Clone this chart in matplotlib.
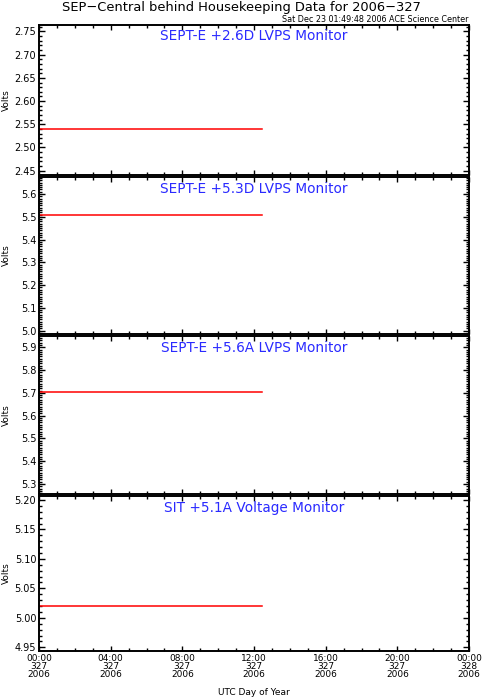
import matplotlib
matplotlib.use("Agg")
import matplotlib.pyplot as plt
from matplotlib.ticker import MultipleLocator, FormatStrFormatter

# data (hours of day 327, volts)
hours = [0.0, 3.0, 6.0, 9.0, 12.45]
sept_26d = [2.54, 2.54, 2.54, 2.54, 2.54]
sept_53d = [5.51, 5.51, 5.51, 5.51, 5.51]
sept_56a = [5.705, 5.705, 5.705, 5.705, 5.705]
sit_51a = [5.02, 5.02, 5.02, 5.02, 5.02]

panel_titles = ["SEPT-E +2.6D LVPS Monitor", "SEPT-E +5.3D LVPS Monitor",
                "SEPT-E +5.6A LVPS Monitor", "SIT +5.1A Voltage Monitor"]
series = [sept_26d, sept_53d, sept_56a, sit_51a]
ylims = [(2.4407, 2.764), (4.9855, 5.6746), (5.256, 5.9496), (4.9437, 5.2068)]
ymajor = [0.05, 0.1, 0.1, 0.05]
yminor = [0.01, 0.01, 0.01, 0.01]
yfmt = ["%.2f", "%.1f", "%.1f", "%.2f"]

tick_hours = [0, 4, 8, 12, 16, 20, 24]
tick_times = ["00:00", "04:00", "08:00", "12:00", "16:00", "20:00", "00:00"]
tick_days = ["327", "327", "327", "327", "327", "327", "328"]
tick_years = ["2006"] * 7

W, H = 482, 699
fig = plt.figure(figsize=(W / 100, H / 100), dpi=100)
plt.rcParams["font.family"] = "DejaVu Sans"

# panel edges in pixels (top, bottom)
edges = [(25, 175), (177, 334), (336, 494), (496, 651)]
left, right = 39, 469

for i, (top, bot) in enumerate(edges):
    ax = fig.add_axes([left / W, 1 - bot / H, (right - left) / W, (bot - top) / H])
    ax.plot(hours, series[i], color="red", lw=1.1)
    ax.set_xlim(0, 24)
    ax.set_ylim(*ylims[i])
    ax.yaxis.set_major_locator(MultipleLocator(ymajor[i]))
    ax.yaxis.set_minor_locator(MultipleLocator(yminor[i]))
    ax.yaxis.set_major_formatter(FormatStrFormatter(yfmt[i]))
    ax.set_xticks(tick_hours)
    ax.xaxis.set_minor_locator(MultipleLocator(1))
    ax.tick_params(which="both", direction="in", top=True, right=True, width=1.0)
    ax.tick_params(axis="y", which="major", length=4.5)
    ax.tick_params(axis="x", which="major", length=3.5)
    ax.tick_params(which="major", labelsize=7, pad=2)
    ax.tick_params(which="minor", length=2.0)
    for s in ax.spines.values():
        s.set_linewidth(1.4)
    fig.text(6 / W, 1 - (top + bot) / 2 / H, "Volts", rotation=90,
             ha="center", va="center", fontsize=6.5)
    ax.text(0.5, 0.97, panel_titles[i], transform=ax.transAxes, ha="center",
            va="top", color="#2a2aff", fontsize=9.8)
    if i == len(edges) - 1:
        labels = [f"{t}\n{d}\n{y}" for t, d, y in zip(tick_times, tick_days, tick_years)]
        ax.set_xticklabels(labels, fontsize=6.5, linespacing=0.9)
        ax.set_xlabel("UTC Day of Year", fontsize=6.5, labelpad=6)
    else:
        ax.set_xticklabels([])

fig.text(0.5, 1 - 8 / H, "SEP\u2212Central behind Housekeeping Data for 2006\u2212327",
         ha="center", va="center", fontsize=9.4)
fig.text(right / W, 1 - 20 / H, "Sat Dec 23 01:49:48 2006 ACE Science Center",
         ha="right", va="center", fontsize=5.8)

fig.savefig("out.png", dpi=100)
